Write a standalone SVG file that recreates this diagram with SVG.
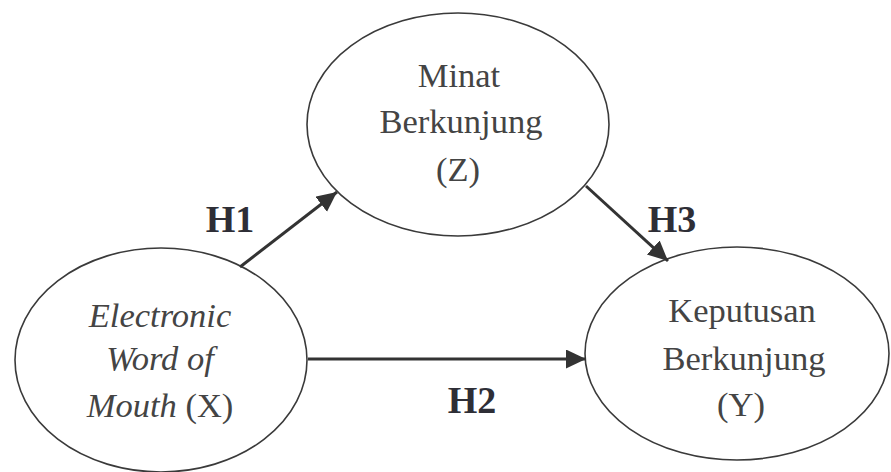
<svg xmlns="http://www.w3.org/2000/svg" width="891" height="472" viewBox="0 0 891 472">
  <style>
    .node { fill: #ffffff; stroke: #3a3a3a; stroke-width: 1.6; }
    .lbl { font-family: "Liberation Serif", "Times New Roman", serif; font-size: 34.5px; fill: #444444; text-anchor: middle; }
    .it { font-style: italic; }
    .edge { stroke: #333333; stroke-width: 3; fill: none; marker-end: url(#head); }
    .hyp { font-family: "Liberation Serif", "Times New Roman", serif; font-size: 38px; font-weight: bold; fill: #2e2e36; text-anchor: middle; }
  </style>
  <defs>
    <marker id="head" markerUnits="userSpaceOnUse" markerWidth="22" markerHeight="20" refX="20" refY="9.5" orient="auto">
      <path d="M0,0 L20,9.5 L0,19 Z" fill="#333333"/>
    </marker>
  </defs>

  <rect width="891" height="472" fill="#ffffff"/>

  <!-- Minat Berkunjung (Z) -->
  <g id="node-z">
    <ellipse class="node" cx="458" cy="124.5" rx="151" ry="111.5"/>
    <text class="lbl" x="459" y="87">Minat</text>
    <text class="lbl" x="461" y="133">Berkunjung</text>
    <text class="lbl" x="458" y="181">(Z)</text>
  </g>

  <!-- Electronic Word of Mouth (X) -->
  <g id="node-x">
    <ellipse class="node" cx="161" cy="360" rx="146" ry="112"/>
    <text class="lbl it" x="160" y="327">Electronic</text>
    <text class="lbl it" x="160" y="370">Word of</text>
    <text class="lbl" x="160" y="417"><tspan class="it">Mouth</tspan> (X)</text>
  </g>

  <!-- Keputusan Berkunjung (Y) -->
  <g id="node-y">
    <ellipse class="node" cx="737" cy="353.5" rx="152" ry="106.5"/>
    <text class="lbl" x="742" y="322">Keputusan</text>
    <text class="lbl" x="744" y="370">Berkunjung</text>
    <text class="lbl" x="741" y="416">(Y)</text>
  </g>

  <!-- hypothesis paths -->
  <g id="connectors">
    <line class="edge" x1="240" y1="267" x2="337" y2="192"/>
    <line class="edge" x1="586" y1="186" x2="668" y2="261"/>
    <line class="edge" x1="308" y1="359" x2="586" y2="359"/>
    <text class="hyp" x="230" y="232">H1</text>
    <text class="hyp" x="672" y="232">H3</text>
    <text class="hyp" x="472" y="413">H2</text>
  </g>
</svg>
